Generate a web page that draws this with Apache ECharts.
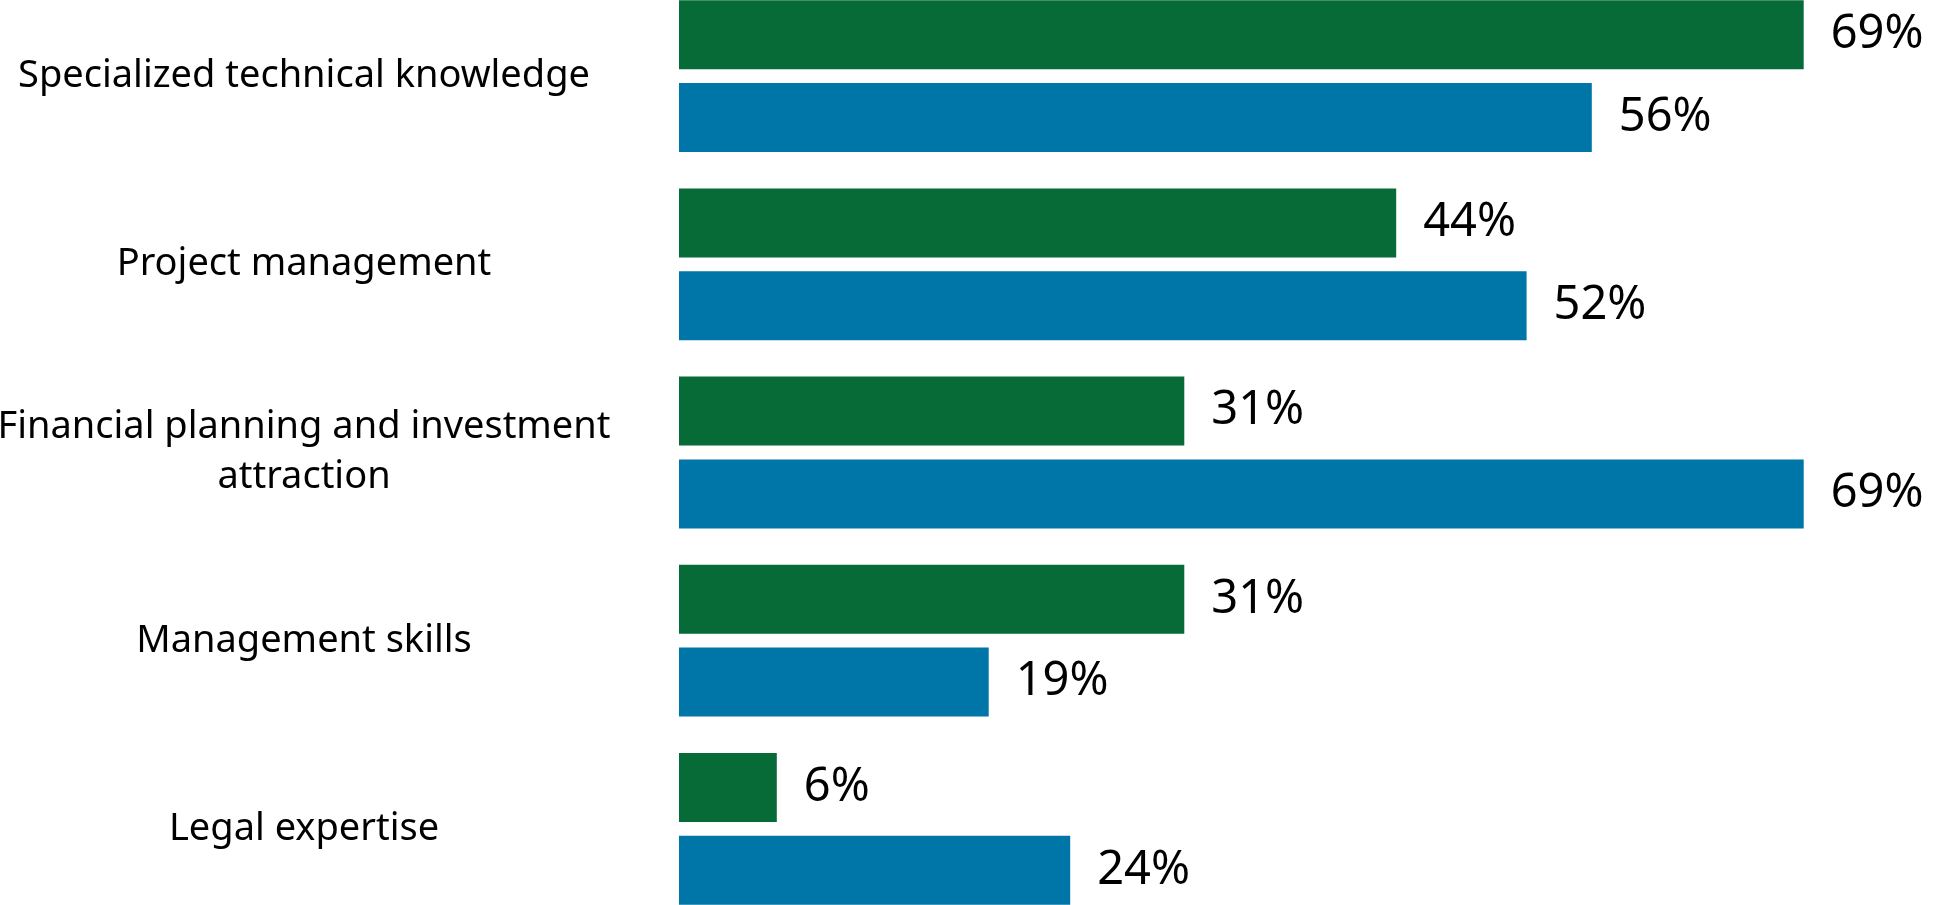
<!DOCTYPE html>
<html>
<head>
<meta charset="utf-8">
<script src="https://cdn.jsdelivr.net/npm/echarts@6/dist/echarts.min.js"></script>
<style>
html,body{margin:0;padding:0;background:#fff;}
#chart{width:1939px;height:905px;}
</style>
</head>
<body>
<div id="chart"></div>
<script>
const categories = [
  'Specialized technical knowledge',
  'Project management',
  'Financial planning and investment\nattraction',
  'Management skills',
  'Legal expertise'
];
const greenValues = [69, 44, 31, 31, 6];
const blueValues = [56, 52, 69, 19, 24];

const chart = echarts.init(document.getElementById('chart'));
const labelStyle = {
  show: true,
  position: 'right',
  distance: 27,
  formatter: p => p.value + '%',
  fontFamily: 'Noto Sans',
  fontSize: 47,
  color: '#000'
};
chart.setOption({
  animation: false,
  grid: { left: 679, top: -18, width: 1304, height: 941, containLabel: false, outerBoundsMode: 'none' },
  xAxis: {
    type: 'value', min: 0, max: 80, show: false
  },
  yAxis: {
    type: 'category',
    data: categories,
    inverse: true,
    axisLine: { show: false },
    axisTick: { show: false },
    splitLine: { show: false },
    axisLabel: {
      align: 'center',
      margin: 375,
      fontFamily: 'Noto Sans',
      fontSize: 38,
      lineHeight: 50,
      color: '#000'
    }
  },
  series: [
    {
      type: 'bar', data: greenValues, barWidth: 69, barGap: '20%',
      itemStyle: { color: '#076B38' }, label: labelStyle
    },
    {
      type: 'bar', data: blueValues, barWidth: 69, barGap: '20%',
      itemStyle: { color: '#0076A8' }, label: labelStyle
    }
  ]
});
</script>
</body>
</html>
